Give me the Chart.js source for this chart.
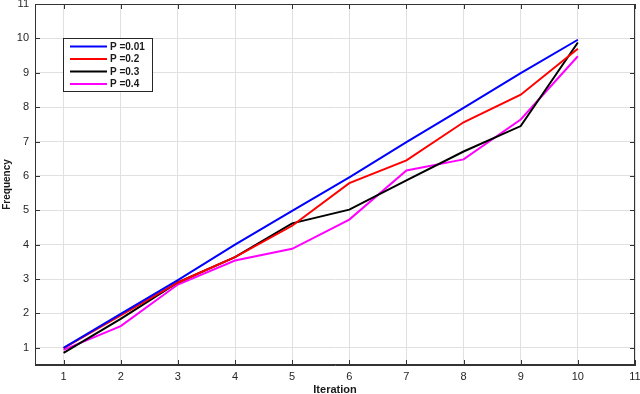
<!DOCTYPE html>
<html>
<head>
<meta charset="utf-8">
<script src="https://cdn.jsdelivr.net/npm/chart.js@4/dist/chart.umd.min.js"></script>
<style>
  html, body { margin: 0; padding: 0; background: #fff; }
  #wrap { width: 640px; height: 394px; position: relative; }
</style>
</head>
<body>
<div id="wrap"><canvas id="c" width="640" height="394"></canvas></div>
<script>
const iterations = [1, 2, 3, 4, 5, 6, 7, 8, 9, 10];
const seriesLabels = ['P =0.01', 'P =0.2', 'P =0.3', 'P =0.4'];
const p001 = [1.00, 1.99, 2.97, 4.00, 4.98, 5.96, 6.98, 7.98, 8.99, 9.96];
const p02  = [0.99, 1.94, 2.90, 3.64, 4.55, 5.79, 6.45, 7.56, 8.36, 9.70];
const p03  = [0.85, 1.84, 2.90, 3.64, 4.62, 5.02, 5.87, 6.71, 7.45, 9.88];
const p04  = [0.94, 1.63, 2.84, 3.54, 3.88, 4.73, 6.16, 6.48, 7.64, 9.48];
const xTicks = [1, 2, 3, 4, 5, 6, 7, 8, 9, 10, 11];
const yTicks = [1, 2, 3, 4, 5, 6, 7, 8, 9, 10, 11];

const colors = ['#0000ff', '#ff0000', '#000000', '#ff00ff'];
const allSeries = [p001, p02, p03, p04];

const datasets = allSeries.map((vals, i) => ({
  label: seriesLabels[i],
  data: iterations.map((x, j) => ({ x: x, y: vals[j] })),
  borderColor: colors[i],
  backgroundColor: colors[i],
  borderWidth: 2,
  pointRadius: 0,
  tension: 0,
  fill: false
}));

const FONT = "'Liberation Sans', Arial, Helvetica, sans-serif";
const AXIS = '#333333';

const frame = {
  id: 'frame',
  afterDatasetsDraw(chart) {
    const ctx = chart.ctx;
    const a = chart.chartArea;
    const xs = chart.scales.x, ys = chart.scales.y;
    ctx.save();
    ctx.strokeStyle = AXIS;
    ctx.lineWidth = 1;
    // box
    ctx.strokeRect(Math.round(a.left) + 0.5, Math.round(a.top) + 0.5,
                   Math.round(a.right - a.left) - 1, Math.round(a.bottom - a.top) - 1);
    // inward ticks
    const L = 5;
    ctx.beginPath();
    xTicks.forEach(v => {
      const px = Math.round(xs.getPixelForValue(v)) + 0.5;
      ctx.moveTo(px, a.bottom); ctx.lineTo(px, a.bottom - L);
      ctx.moveTo(px, a.top); ctx.lineTo(px, a.top + L);
    });
    yTicks.forEach(v => {
      const py = Math.round(ys.getPixelForValue(v)) + 0.5;
      ctx.moveTo(a.left, py); ctx.lineTo(a.left + L, py);
      ctx.moveTo(a.right, py); ctx.lineTo(a.right - L, py);
    });
    ctx.stroke();

    // legend
    const bx = a.left + 28, by = a.top + 34, bw = 89, bh = 53;
    ctx.fillStyle = '#ffffff';
    ctx.fillRect(bx, by, bw, bh);
    ctx.strokeStyle = '#262626';
    ctx.strokeRect(bx + 0.5, by + 0.5, bw, bh);
    ctx.font = 'bold 10px ' + FONT;
    ctx.textBaseline = 'middle';
    ctx.textAlign = 'left';
    chart.data.datasets.forEach((ds, i) => {
      const ry = by + 8.5 + i * 12.5;
      ctx.strokeStyle = ds.borderColor;
      ctx.lineWidth = 2;
      ctx.beginPath();
      ctx.moveTo(bx + 7, ry); ctx.lineTo(bx + 44, ry);
      ctx.stroke();
      ctx.fillStyle = '#1a1a1a';
      ctx.fillText(ds.label, bx + 47, ry + 0.5);
    });
    ctx.restore();
  }
};

new Chart(document.getElementById('c'), {
  type: 'line',
  data: { datasets: datasets },
  options: {
    responsive: false,
    animation: false,
    devicePixelRatio: 1,
    layout: { padding: { top: 4, right: 5, left: 0, bottom: 0 } },
    plugins: { legend: { display: false }, tooltip: { enabled: false } },
    scales: {
      x: {
        type: 'linear',
        min: 0.5, max: 11,
        afterBuildTicks(scale) { scale.ticks = xTicks.map(v => ({ value: v })); },
        afterFit(scale) { scale.height = 29; scale.paddingLeft = 0; scale.paddingRight = 0; },
        ticks: { stepSize: 1, padding: 5, autoSkip: false, color: '#262626', font: { family: FONT, size: 11 }, maxRotation: 0 },
        grid: { color: '#e0e0e0', lineWidth: 1, drawTicks: false },
        border: { display: true, color: AXIS, width: 1 },
        title: { display: true, text: 'Iteration', color: '#1a1a1a', font: { family: FONT, size: 11, weight: 'bold' }, padding: { top: 0, bottom: -3 } }
      },
      y: {
        type: 'linear',
        min: 0.5, max: 11,
        afterBuildTicks(scale) { scale.ticks = yTicks.map(v => ({ value: v })); },
        afterFit(scale) { scale.width = 35; scale.paddingTop = 0; scale.paddingBottom = 0; },
        ticks: { stepSize: 1, padding: 6, autoSkip: false, color: '#262626', font: { family: FONT, size: 11 } },
        grid: { color: '#e0e0e0', lineWidth: 1, drawTicks: false },
        border: { display: true, color: AXIS, width: 1 },
        title: { display: true, text: 'Frequency', color: '#1a1a1a', font: { family: FONT, size: 10, weight: 'bold' }, padding: { top: 1, bottom: 0 } }
      }
    }
  },
  plugins: [frame]
});
</script>
</body>
</html>
